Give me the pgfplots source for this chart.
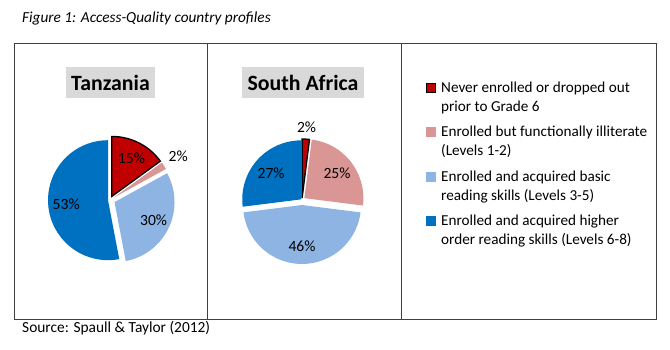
\documentclass[border=0pt]{standalone}
\usepackage{pgfplots}
\pgfplotsset{compat=1.18}
\usepackage{pgfplotstable}
\usepackage{fontspec}
\setmainfont{Carlito}
\definecolor{cRed}{HTML}{C00000}
\definecolor{cPink}{HTML}{D99694}
\definecolor{cLight}{HTML}{8EB4E3}
\definecolor{cDark}{HTML}{0070C0}
\definecolor{frameC}{HTML}{404040}
\definecolor{titleBg}{HTML}{D9D9D9}
\newcommand\pctfont{\fontsize{15.6}{19}\selectfont}
\newcommand\legfont{\fontsize{15.2}{19}\selectfont}

% pct = share (%), explode = offset of slice (pt), labr = label distance / radius
\pgfplotstableread{
pct explode labr col border
15 4 0.72 cRed black
2 4 1.28 cPink none
30 5 0.72 cLight none
53 2 0.70 cDark none
}\tanzania
\pgfplotstableread{
pct explode labr col border
2 2 1.21 cRed black
25 3 0.70 cPink none
46 5 0.70 cLight none
27 1 0.68 cDark none
}\southafrica

\newcommand\drawpie[4]{% table, cx, cy, r
  \def\slcum{90}%
  \pgfplotstablegetrowsof{#1}%
  \pgfmathtruncatemacro\sllast{\pgfplotsretval-1}%
  \pgfplotsforeachungrouped \sli in {0,...,\sllast}{%
    \pgfplotstablegetelem{\sli}{pct}\of{#1}\let\slpct\pgfplotsretval
    \pgfplotstablegetelem{\sli}{explode}\of{#1}\let\slexp\pgfplotsretval
    \pgfplotstablegetelem{\sli}{labr}\of{#1}\let\sllr\pgfplotsretval
    \pgfplotstablegetelem{\sli}{col}\of{#1}\let\slcol\pgfplotsretval
    \pgfplotstablegetelem{\sli}{border}\of{#1}\let\slbd\pgfplotsretval
    \pgfmathsetmacro\sla{\slcum}%
    \pgfmathsetmacro\slb{\slcum-3.6*\slpct}%
    \pgfmathsetmacro\slm{(\sla+\slb)/2}%
    \pgfmathsetmacro\slox{#2+\slexp*cos(\slm)}%
    \pgfmathsetmacro\sloy{#3+\slexp*sin(\slm)}%
    \pgfmathsetmacro\sllx{\slox+\sllr*#4*cos(\slm)}%
    \pgfmathsetmacro\slly{\sloy+\sllr*#4*sin(\slm)}%
    \edef\sltmp{%
      \noexpand\filldraw[fill=\slcol, draw=\slbd, line width=1.3pt, line join=miter]
        (axis cs:\slox,\sloy) -- ++(\sla:#4pt) arc[start angle=\sla, end angle=\slb, radius=#4pt] -- cycle;
      \noexpand\node[font=\noexpand\pctfont, inner sep=0pt] at (axis cs:\sllx,\slly) {\slpct\noexpand\%};
    }\sltmp
    \global\let\slcum\slb
  }%
}

\begin{document}
\begin{tikzpicture}[x=1pt,y=1pt]
\useasboundingbox (0,0) rectangle (670,350);
% frame
\draw[frameC, line width=0.9pt] (14,307) rectangle (656,31);
\draw[frameC, line width=0.9pt] (207,307) -- (207,31);
\draw[frameC, line width=0.9pt] (401,307) -- (401,31);
% caption and source
\node[anchor=base west, inner sep=0pt, font=\fontsize{15.3}{17}\selectfont\itshape] at (22,327) {Figure 1: Access-Quality country profiles};
\node[anchor=base west, inner sep=0pt, font=\fontsize{15.4}{17}\selectfont] at (22,17) {Source: Spaull \& Taylor (2012)};
% titles
\node[fill=titleBg, minimum width=89pt, minimum height=31pt, inner sep=0pt, font=\fontsize{21.8}{26}\selectfont\bfseries] at (110.5,267.5) {Tanzania};
\node[fill=titleBg, minimum width=122pt, minimum height=31pt, inner sep=0pt, font=\fontsize{21.8}{26}\selectfont\bfseries] at (303,267.5) {South Africa};

\begin{axis}[x=1pt, y=1pt, xmin=0, xmax=670, ymin=0, ymax=350,
  hide axis, clip=false, anchor=origin, at={(0,0)}]
\drawpie{\tanzania}{110}{150}{60}
\drawpie{\southafrica}{302}{150}{59}
\end{axis}

% legend
\foreach \yc/\col/\bd/\la/\lb in {
  88/cRed/black/{Never enrolled or dropped out}/{prior to Grade 6},
  132/cPink/cPink/{Enrolled but functionally illiterate}/{(Levels 1-2)},
  177/cLight/cLight/{Enrolled and acquired basic}/{reading skills (Levels 3-5)},
  221/cDark/cDark/{Enrolled and acquired higher}/{order reading skills (Levels 6-8)}}{
  \filldraw[fill=\col, draw=\bd, line width=1pt] (426.5,{350-\yc-4.5}) rectangle (435.5,{350-\yc+4.5});
  \node[anchor=base west, inner sep=0pt, font=\legfont] at (441,{350-\yc-5}) {\la};
  \node[anchor=base west, inner sep=0pt, font=\legfont] at (441,{350-\yc-19-5}) {\lb};
}
\end{tikzpicture}
\end{document}
